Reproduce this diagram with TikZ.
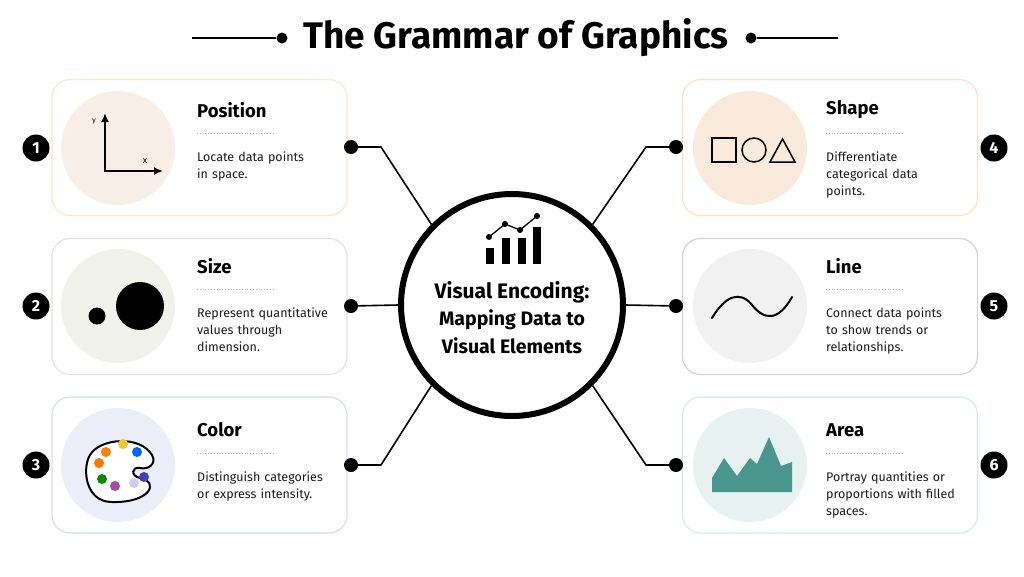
\documentclass[tikz,border=0pt]{standalone}
\usepackage{fontspec}
\setmainfont{Fira Sans}
\usetikzlibrary{arrows.meta,shapes.geometric}
\newcommand\nohyph{\hyphenpenalty=10000\relax}
\definecolor{peach}{HTML}{F7EFE7}
\definecolor{sand}{HTML}{F1F1EB}
\definecolor{lilac}{HTML}{EBEEF8}
\definecolor{apricot}{HTML}{FAEADC}
\definecolor{fog}{HTML}{F1F1F1}
\definecolor{mint}{HTML}{E7F1EF}
\definecolor{teal}{HTML}{4A968C}
\definecolor{ink}{HTML}{1A1A1A}
\tikzset{
  card/.style = {draw=#1, line width=1.1pt, rounded corners=18pt, fill=white,
    minimum width=295pt, minimum height=136pt, inner sep=0pt},
  disc/.style = {circle, fill=#1, minimum size=114pt, inner sep=0pt},
  badge/.style = {circle, fill=black, text=white, minimum size=27pt, inner sep=0pt,
    font=\fontsize{16}{16}\selectfont\bfseries},
  knob/.style = {circle, fill=black, minimum size=14pt, inner sep=0pt},
  ctitle/.style = {anchor=west, inner sep=0pt, font=\fontsize{18.5}{18}\selectfont\bfseries},
  cbody/.style = {anchor=north west, inner sep=0pt, text width=140pt, align=left, text=ink,
    font=\fontsize{12.5}{17}\selectfont\nohyph},
  rule/.style = {draw=black!30, dotted, line width=0.8pt},
  link/.style = {draw, line width=1.6pt, line join=round},
}
\begin{document}
\begin{tikzpicture}[x=1pt,y=-1pt]
\useasboundingbox[fill=white] (0,0) rectangle (1024,576);

% title
\node[inner sep=0pt, font=\fontsize{37}{37}\selectfont\bfseries] (title) at (516,38) {The Grammar of Graphics};
\node[knob, minimum size=11pt] (tl) at (282,38) {};
\node[knob, minimum size=11pt] (tr) at (751,38) {};
\coordinate (tla) at (192,38);
\coordinate (tra) at (838,38);
\draw[line width=1.6pt] (tla) -- (tl);
\draw[line width=1.6pt] (tr) -- (tra);

% cards
\node[card=peach!60!orange!45] (c1) at (199.5,147.5) {};
\node[card=sand!70!black!35] (c2) at (199.5,306.5) {};
\node[card=lilac!60!blue!35] (c3) at (199.5,465) {};
\node[card=apricot!60!orange!50] (c4) at (830,147.5) {};
\node[card=black!18] (c5) at (830,306.5) {};
\node[card=mint!50!teal!40] (c6) at (830,465) {};

\node[disc=peach] (p1) at (118,148) {};
\node[disc=sand] (p2) at (118,306) {};
\node[disc=lilac] (p3) at (118,465) {};
\node[disc=apricot] (p4) at (750,148) {};
\node[disc=fog] (p5) at (750,306) {};
\node[disc=mint] (p6) at (750,465) {};

% titles, rules, text
\foreach \n/\x/\y/\t/\b in {
  1/197/110/Position/{Locate data points\\ in space.},
  2/197/266/Size/{Represent quantitative values through dimension.},
  3/197/430/Color/{Distinguish categories or express intensity.},
  4/826/110/Shape/{Differentiate\\ categorical data\\ points.},
  5/826/266/Line/{Connect data points to show trends or relationships.},
  6/826/430/Area/{Portray quantities or proportions with filled spaces.}}{
  \node[ctitle] (h\n) at (\x,\y) {\t};
  \draw[rule] (\x,\y+23) -- (\x+78,\y+23);
  \node[cbody] (b\n) at (\x,\y+42) {\b};
}

% badges
\node[badge] (n1) at (36,148) {1};
\node[badge] (n2) at (36,306) {2};
\node[badge] (n3) at (36,465) {3};
\node[badge] (n4) at (994,148) {4};
\node[badge] (n5) at (994,306) {5};
\node[badge] (n6) at (994,465) {6};

% hub
\node[circle, draw, line width=6pt, fill=white, minimum size=222pt, inner sep=0pt] (hub) at (512,305) {};
\node[inner sep=0pt, align=center, font=\fontsize{21}{28}\selectfont\bfseries] (hubtxt) at (512,318)
  {Visual Encoding:\\[-1pt]{\fontsize{19.5}{25}\selectfont Mapping Data to}\\{\fontsize{19.5}{25}\selectfont Visual Elements}};
\fill (486,248) rectangle (494,264);
\fill (502,238) rectangle (510,264);
\fill (518,238) rectangle (526,264);
\fill (533,227) rectangle (541,264);
\draw[line width=1.3pt] (489,237) -- (505,224) -- (520,230) -- (537,216);
\foreach \p in {(489,237),(505,224),(520,230),(537,216)} \fill \p circle (3);

% knobs and links
\node[knob] (d1) at (351,147) {};
\node[knob] (d2) at (351,306) {};
\node[knob] (d3) at (351,465) {};
\node[knob] (d4) at (676,147) {};
\node[knob] (d5) at (676,306) {};
\node[knob] (d6) at (676,465) {};
\draw[link] (d1) -- ++(30,0) -- (hub.135);
\draw[link] (d2) -- (hub.180);
\draw[link] (d3) -- ++(30,0) -- (hub.225);
\draw[link] (d4) -- ++(-30,0) -- (hub.45);
\draw[link] (d5) -- (hub.0);
\draw[link] (d6) -- ++(-30,0) -- (hub.315);

% icon: position
\draw[line width=2.2pt, -{Latex[length=9pt,width=8pt]}] (105,171) -- (105,113);
\draw[line width=2.2pt, -{Latex[length=9pt,width=8pt]}] (104,171) -- (163,171);
\node[font=\fontsize{7}{7}\selectfont, inner sep=0pt] (ly) at (94,121) {y};
\node[font=\fontsize{9}{9}\selectfont, inner sep=0pt] (lx) at (145,161) {x};

% icon: size
\fill (97,316) circle (8.5);
\fill (140,306) circle (24);

% icon: color
\draw[line width=2pt, fill=white] (112,502) .. controls (85,502) and (82,468) .. (90,455)
  .. controls (100,438) and (140,435) .. (152,455)
  .. controls (157,464) and (148,470) .. (140,468)
  .. controls (132,466) and (130,476) .. (140,478)
  .. controls (160,482) and (150,503) .. cycle;
\foreach \p/\c in {(106,452)/orange,(123,444)/yellow!60!brown,(137,452)/blue!60!cyan,
  (99,463)/orange!90!red,(102,479)/green!55!black,(115,486)/violet!70,(134,483)/blue!20,(144,477)/blue!50!gray}
  \fill[\c] \p circle (5);

% icon: shape
\draw[line width=1.5pt] (712,138) rectangle (736,162);
\draw[line width=1.5pt] (754,150) circle (12);
\draw[line width=1.5pt] (770,162) -- (795,162) -- (782.5,139) -- cycle;

% icon: line
\draw[line width=2pt, line cap=round] (712,318) .. controls (725,296) and (740,290) .. (752,305)
  .. controls (764,320) and (778,322) .. (792,297);

% icon: area
\fill[teal] (712,492) -- (712,478) -- (724,458) -- (737,476) -- (750,458) -- (757,464)
  -- (769,437) -- (781,466) -- (792,462) -- (792,492) -- cycle;
\end{tikzpicture}
\end{document}
